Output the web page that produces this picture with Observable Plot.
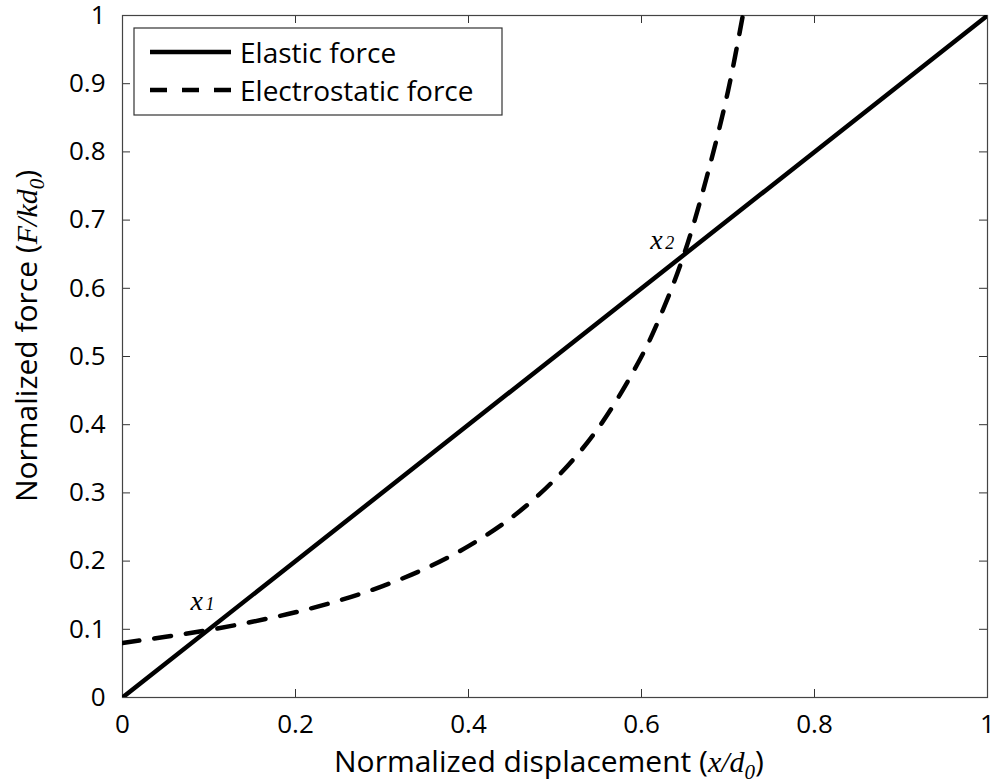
<!DOCTYPE html>
<html>
<head>
<meta charset="utf-8">
<script src="https://cdn.jsdelivr.net/npm/d3@7"></script>
<script src="https://cdn.jsdelivr.net/npm/@observablehq/plot@0.6"></script>
<style>
  html, body { margin: 0; padding: 0; background: white; }
  #chart { width: 991px; height: 781px; }
</style>
</head>
<body>
<div id="chart"></div>
<script>
// ---- data ----
const elasticX = [0, 1];
const elasticY = [0, 1];

const electroX = [0, 0.05, 0.10, 0.15, 0.20, 0.25, 0.30, 0.35, 0.40, 0.45, 0.50, 0.55, 0.60, 0.625, 0.65, 0.675, 0.70, 0.72];
const electroY = [0.080, 0.089, 0.099, 0.111, 0.125, 0.142, 0.163, 0.189, 0.222, 0.264, 0.320, 0.395, 0.500, 0.569, 0.653, 0.761, 0.889, 1.02];

const xTicks = [0, 0.2, 0.4, 0.6, 0.8, 1];
const yTicks = [0, 0.1, 0.2, 0.3, 0.4, 0.5, 0.6, 0.7, 0.8, 0.9, 1];

const seriesNames = ["Elastic force", "Electrostatic force"];

const annX = [0.0786, 0.610];
const annY = [0.1276, 0.658];
const annMain = ["x", "x"];
const annSub = ["1", "2"];

// ---- tables built from arrays ----
const elastic = elasticX.map((x, i) => ({x, y: elasticY[i]}));
const electro = electroX.map((x, i) => ({x, y: electroY[i]}));
const ann = annX.map((x, i) => ({x, y: annY[i], main: annMain[i], sub: annSub[i]}));

const W = 991, H = 781;
const mL = 122, mR = 4, mT = 15, mB = 84;
const tickLen = 8;
const pw = W - mL - mR, ph = H - mT - mB;
const tx = tickLen / ph, ty = tickLen / pw;

const plot = Plot.plot({
  width: W, height: H,
  marginLeft: mL, marginRight: mR, marginTop: mT, marginBottom: mB,
  x: {domain: [0, 1]},
  y: {domain: [0, 1]},
  style: {fontFamily: "'Open Sans', sans-serif", fontSize: "26px", color: "black", background: "white", overflow: "visible"},
  marks: [
    Plot.axisX({ticks: xTicks, tickSize: 0, tickPadding: 17, tickFormat: d => String(d), label: null, fontSize: 26}),
    Plot.axisY({ticks: yTicks, tickSize: 0, tickPadding: 17, tickFormat: d => String(d), label: null, fontSize: 26}),
    Plot.ruleX(xTicks, {x: d => d, y1: 0, y2: tx, stroke: "#333", strokeWidth: 1}),
    Plot.ruleX(xTicks, {x: d => d, y1: 1, y2: 1 - tx, stroke: "#333", strokeWidth: 1}),
    Plot.ruleY(yTicks, {y: d => d, x1: 0, x2: ty, stroke: "#333", strokeWidth: 1}),
    Plot.ruleY(yTicks, {y: d => d, x1: 1, x2: 1 - ty, stroke: "#333", strokeWidth: 1}),
    Plot.frame({stroke: "#444", strokeWidth: 1.2}),
    Plot.line(elastic, {x: "x", y: "y", stroke: "black", strokeWidth: 4.5, clip: true}),
    Plot.line(electro, {x: "x", y: "y", stroke: "black", strokeWidth: 4.5, strokeDasharray: "17,15", curve: "catmull-rom", clip: true}),
    Plot.text(ann, {x: "x", y: "y", text: "main", textAnchor: "start", lineAnchor: "bottom", fontFamily: "'Liberation Serif', serif", fontStyle: "italic", fontSize: 28, fill: "black"}),
    Plot.text(ann, {x: "x", y: "y", text: "sub", textAnchor: "start", lineAnchor: "bottom", dx: 15, fontFamily: "'Liberation Serif', serif", fontStyle: "italic", fontSize: 18, fill: "black"})
  ]
});

document.getElementById("chart").appendChild(plot);
const svg = d3.select(plot);

// ---- axis labels with italic / subscript parts ----
function richLabel(g, plain, ital, sub) {
  g.append("tspan").text(plain);
  g.append("tspan").attr("font-family", "'Liberation Serif', serif").attr("font-style", "italic").text(ital);
  g.append("tspan").attr("font-family", "'Liberation Serif', serif").attr("font-style", "italic").attr("font-size", 21).attr("dy", 7).text(sub);
  g.append("tspan").attr("dy", -7).text(")");
}

const xl = svg.append("text")
  .attr("x", 549).attr("y", 772)
  .attr("text-anchor", "middle")
  .attr("font-family", "'Open Sans', sans-serif").attr("font-size", 30).attr("fill", "black");
richLabel(xl, "Normalized displacement (", "x/d", "0");

const yl = svg.append("text")
  .attr("transform", `translate(37,336) rotate(-90)`)
  .attr("text-anchor", "middle")
  .attr("font-family", "'Open Sans', sans-serif").attr("font-size", 30).attr("fill", "black");
richLabel(yl, "Normalized force (", "F/kd", "0");

// ---- legend ----
const lg = svg.append("g");
lg.append("rect").attr("x", 134).attr("y", 28).attr("width", 368).attr("height", 87)
  .attr("fill", "white").attr("stroke", "#333").attr("stroke-width", 1.2);
const rows = [{y: 52, dash: null}, {y: 90, dash: "17,15"}];
rows.forEach((r, i) => {
  const l = lg.append("line").attr("x1", 150).attr("x2", 231).attr("y1", r.y).attr("y2", r.y)
    .attr("stroke", "black").attr("stroke-width", 4.5);
  if (r.dash) l.attr("stroke-dasharray", r.dash);
  lg.append("text").attr("x", 240).attr("y", r.y + 11)
    .attr("text-anchor", "start")
    .attr("font-family", "'Open Sans', sans-serif").attr("font-size", 28).attr("fill", "black")
    .text(seriesNames[i]);
});
</script>
</body>
</html>
